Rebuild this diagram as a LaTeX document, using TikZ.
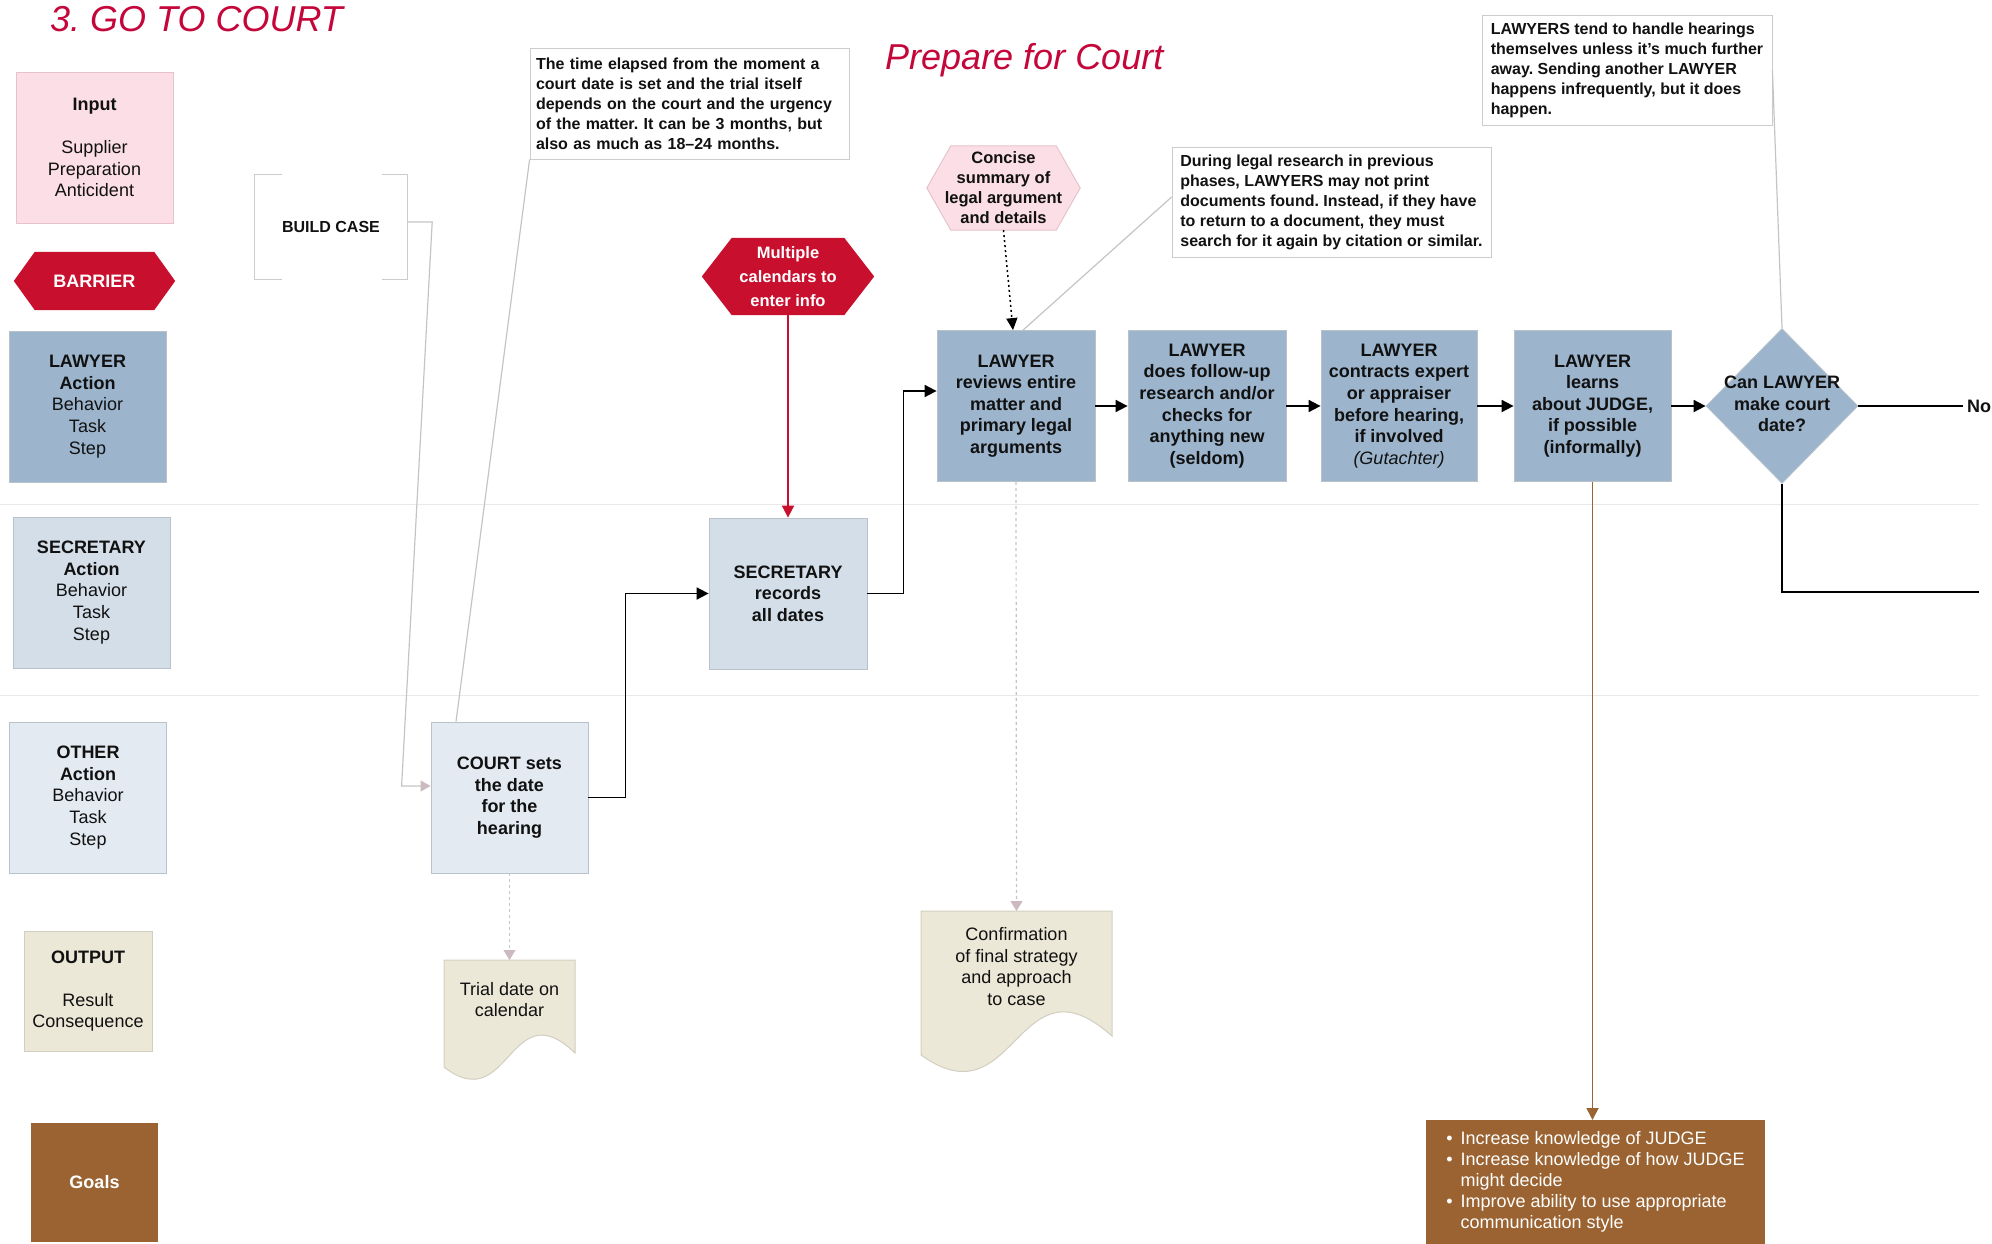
\documentclass[tikz,border=0pt]{standalone}
\usepackage{fontspec}
\setmainfont{Liberation Sans}
\usetikzlibrary{arrows.meta,shapes.geometric}
\definecolor{crim}{HTML}{C8102E}
\definecolor{titlered}{HTML}{C4063B}
\definecolor{inpink}{HTML}{FCDFE6}
\definecolor{pinkline}{HTML}{E6C3CC}
\definecolor{lawblue}{HTML}{9CB5CD}
\definecolor{secblue}{HTML}{D3DEE9}
\definecolor{othblue}{HTML}{E3EAF2}
\definecolor{beige}{HTML}{ECE8D7}
\definecolor{docline}{HTML}{D2CEC2}
\definecolor{goalbrown}{HTML}{9A6331}
\definecolor{boxline}{HTML}{B9C2CB}
\definecolor{noteline}{HTML}{CCCCCC}
\definecolor{gline}{HTML}{C4C4C4}
\definecolor{garrow}{HTML}{CDBAC1}
\definecolor{sepline}{HTML}{E9E9E9}
\definecolor{txt}{HTML}{111111}
\pgfdeclarelayer{bg}
\pgfsetlayers{bg,main}
\begin{document}
\frenchspacing
\begin{tikzpicture}[x=1pt,y=-1pt,
  leg/.style={rectangle, draw=boxline, line width=0.8pt, minimum width=157pt, minimum height=151pt, inner sep=0pt, align=center, text=txt, font=\fontsize{18}{21.6}\selectfont},
  box/.style={leg, font=\fontsize{18}{21.6}\selectfont\bfseries},
  lawbox/.style={box, fill=lawblue},
  hexn/.style={rectangle, inner sep=0pt, align=center, text=txt, font=\fontsize{18}{21.6}\selectfont\bfseries},
  note/.style={rectangle, draw=noteline, line width=0.8pt, fill=white, align=left, inner xsep=3pt, inner ysep=0pt, text=txt, font=\fontsize{16}{20}\selectfont\bfseries},
  doctext/.style={rectangle, anchor=north, inner xsep=0pt, align=center, text=txt, font=\fontsize{18}{21.6}\selectfont},
  flow/.style={draw=black, line width=1.8pt, -{Triangle[length=12pt,width=12pt]}},
  flowline/.style={draw=black, line width=1.8pt},
  greyline/.style={draw=gline, line width=1.2pt},
  greyarrow/.style={draw=gline, line width=1.2pt, -{Triangle[length=10pt,width=11pt,color=garrow]}},
  greydash/.style={draw=gline, line width=1.2pt, dash pattern=on 3pt off 3pt, -{Triangle[length=10pt,width=12pt,color=garrow]}},
  blackdot/.style={draw=black, line width=1.5pt, dash pattern=on 2pt off 3pt, -{Triangle[length=12pt,width=11pt]}},
  redflow/.style={draw=crim, line width=1.8pt, -{Triangle[length=12pt,width=12pt,color=crim]}},
  brownflow/.style={draw=goalbrown, line width=1.8pt, -{Triangle[length=12pt,width=12pt,color=goalbrown]}},
  bracket/.style={draw=noteline, line width=1.2pt},
  titlefont/.style={anchor=base west, inner sep=0pt, text=titlered, font=\fontsize{36}{40}\selectfont\itshape}
]
\useasboundingbox (0,0) rectangle (1992,1244);

% lane separators
\draw[sepline, line width=1pt] (0,504) -- (1979,504);
\draw[sepline, line width=1pt] (0,695) -- (1979,695);

% titles
\node[titlefont] (title) at (50,32) {3. GO TO COURT};
\node[titlefont] (prep) at (885,70) {Prepare for Court};

% legend
\node[leg, fill=inpink, draw=pinkline] (inp) at (94.5,147.5) {\textbf{Input}\\[21.6pt] Supplier\\ Preparation\\ Anticident};
\node[hexn, minimum width=161pt, minimum height=58pt, text=white] (bar) at (94.5,281) {BARRIER};
\node[leg, fill=lawblue] (lawleg) at (87.5,406.5) {\textbf{LAWYER}\\ \textbf{Action}\\ Behavior\\ Task\\ Step};
\node[leg, fill=secblue] (secleg) at (91.5,592.5) {\textbf{SECRETARY}\\ \textbf{Action}\\ Behavior\\ Task\\ Step};
\node[leg, fill=othblue] (othleg) at (88,797.5) {\textbf{OTHER}\\ \textbf{Action}\\ Behavior\\ Task\\ Step};
\node[leg, fill=beige, draw=docline, minimum width=128pt, minimum height=120pt] (outleg) at (88,991) {\textbf{OUTPUT}\\[21.6pt] Result\\ Consequence};
\node[leg, fill=goalbrown, draw=none, minimum width=127pt, minimum height=119pt, text=white] (goalleg) at (94.5,1182.5) {\textbf{Goals}};

% build case bracket
\node[font=\fontsize{16}{19}\selectfont\bfseries, text=txt, minimum width=152pt, minimum height=104pt, inner sep=0pt] (bc) at (331,227) {BUILD CASE};
\draw[bracket] ([xshift=27pt]bc.north west) -- (bc.north west) -- (bc.south west) -- ([xshift=27pt]bc.south west);
\draw[bracket] ([xshift=-25pt]bc.north east) -- (bc.north east) -- (bc.south east) -- ([xshift=-25pt]bc.south east);

% notes
\node[note, text width=307pt, inner xsep=6pt, minimum height=111pt] (tnote) at (689.5,103.5) {The time elapsed from the moment a\\ court date is set and the trial itself\\ depends on the court and the urgency\\ of the matter. It can be 3 months, but\\ also as much as 18–24 months.};
\node[note, minimum width=319pt, minimum height=110pt] (dnote) at (1331.5,202) {During legal research in previous\\ phases, LAWYERS may not print\\ documents found. Instead, if they have\\ to return to a document, they must\\ search for it again by citation or similar.};
\node[note, minimum width=290pt, minimum height=110pt] (lnote) at (1627,70) {LAWYERS tend to handle hearings\\ themselves unless it’s much further\\ away. Sending another LAWYER\\ happens infrequently, but it does\\ happen.};

% hexagons
\node[hexn, minimum width=153pt, minimum height=84pt, font=\fontsize{16.5}{20}\selectfont\bfseries] (con) at (1003.5,188) {Concise\\ summary of\\ legal argument\\ and details};
\node[hexn, minimum width=172pt, minimum height=77pt, text=white, font=\fontsize{16.5}{24}\selectfont\bfseries] (cal) at (788,276.5) {Multiple\\ calendars to\\ enter info};
\begin{pgfonlayer}{bg}
\fill[crim] (bar.west) -- ([xshift=21pt]bar.north west) -- ([xshift=-21pt]bar.north east) -- (bar.east) -- ([xshift=-21pt]bar.south east) -- ([xshift=21pt]bar.south west) -- cycle;
\fill[crim] (cal.west) -- ([xshift=30pt]cal.north west) -- ([xshift=-30pt]cal.north east) -- (cal.east) -- ([xshift=-30pt]cal.south east) -- ([xshift=30pt]cal.south west) -- cycle;
\filldraw[fill=inpink, draw=pinkline, line width=1pt] (con.west) -- ([xshift=24pt]con.north west) -- ([xshift=-24pt]con.north east) -- (con.east) -- ([xshift=-24pt]con.south east) -- ([xshift=24pt]con.south west) -- cycle;
\end{pgfonlayer}

% process boxes
\node[box, fill=othblue] (court) at (509.5,797.5) {COURT sets\\ the date\\ for the\\ hearing};
\node[box, fill=secblue, minimum width=158pt] (sec) at (788,593.5) {SECRETARY\\ records\\ all dates};
\node[lawbox, minimum width=158pt] (rev) at (1016,406) {LAWYER\\ reviews entire\\ matter and\\ primary legal\\ arguments};
\node[lawbox, minimum width=158pt] (b2) at (1207,406) {LAWYER\\ does follow-up\\ research and/or\\ checks for\\ anything new\\ (seldom)};
\node[lawbox, minimum width=156pt] (b3) at (1399,406) {LAWYER\\ contracts expert\\ or appraiser\\ before hearing,\\ if involved\\ {\mdseries\itshape (Gutachter)}};
\node[lawbox] (b4) at (1592.5,406) {LAWYER\\ learns\\ about JUDGE,\\ if possible\\ (informally)};
\node[diamond, fill=lawblue, draw=boxline, line width=0.8pt, minimum width=152pt, minimum height=155pt, inner sep=0pt] (dia) at (1782,406) {};
\node[hexn] (diat) at (1782,404) {Can LAWYER\\ make court\\ date?};
\node[anchor=west, inner sep=4pt, text=txt, font=\fontsize{18}{21.6}\selectfont\bfseries] (no) at (1963,406) {No};
\coordinate (noend) at (1979,592);

% output documents
\filldraw[fill=beige, draw=docline, line width=1pt] (444,960) -- (575,960) -- (575,1053) .. controls (509.5,990) and (509.5,1118) .. (444,1067) -- cycle;
\filldraw[fill=beige, draw=docline, line width=1pt] (921,911) -- (1112,911) -- (1112,1036) .. controls (1016.5,951) and (1016.5,1123.5) .. (921,1055) -- cycle;
\node[doctext, inner ysep=22pt, minimum width=131pt] (trial) at (509.5,960) {Trial date on\\ calendar};
\node[doctext, inner ysep=16.5pt, minimum width=191pt] (conf) at (1016.5,911) {Confirmation\\ of final strategy\\ and approach\\ to case};

% goals box
\node[rectangle, fill=goalbrown, anchor=north, minimum width=339pt, minimum height=124pt, inner sep=0pt, text=white, font=\fontsize{18}{21.2}\selectfont] (goal) at (1595.5,1120) {\begin{tabular}{@{}l@{\hspace{8pt}}l@{}}
•& Increase knowledge of JUDGE\\
•& Increase knowledge of how JUDGE\\
 & might decide\\
•& Improve ability to use appropriate\\
 & communication style
\end{tabular}};

% connectors
\draw[greyarrow] ([yshift=5pt]bc.east) -- ([xshift=25pt,yshift=5pt]bc.east) -- ([xshift=-29pt,yshift=11.5pt]court.west) -- ([yshift=11.5pt]court.west);
\draw[greyline] (tnote.south west) -- ([xshift=-53.5pt]court.north);
\draw[greydash] (court.south) -- (trial.north);
\draw[flow] (court.east) -- ++(37,0) |- (sec.west);
\draw[redflow] (cal.south) -- (sec.north);
\draw[flow] (sec.east) -- ++(36,0) |- ([yshift=15pt]rev.west);
\draw[blackdot] (con.south) -- ([xshift=-3pt]rev.north);
\draw[greyline] ([xshift=7pt]rev.north) -- ([yshift=5pt]dnote.west);
\draw[greydash] (rev.south) -- (conf.north);
\draw[flow] (rev.east) -- (b2.west);
\draw[flow] (b2.east) -- (b3.west);
\draw[flow] (b3.east) -- (b4.west);
\draw[flow] (b4.east) -- (dia.west);
\draw[flowline] (dia.east) -- (no.west);
\draw[flowline] (dia.south) |- (noend);
\draw[greyline] (lnote.east) -- (dia.north);
\draw[brownflow] (b4.south) -- (b4.south |- goal.north);
\end{tikzpicture}
\end{document}
